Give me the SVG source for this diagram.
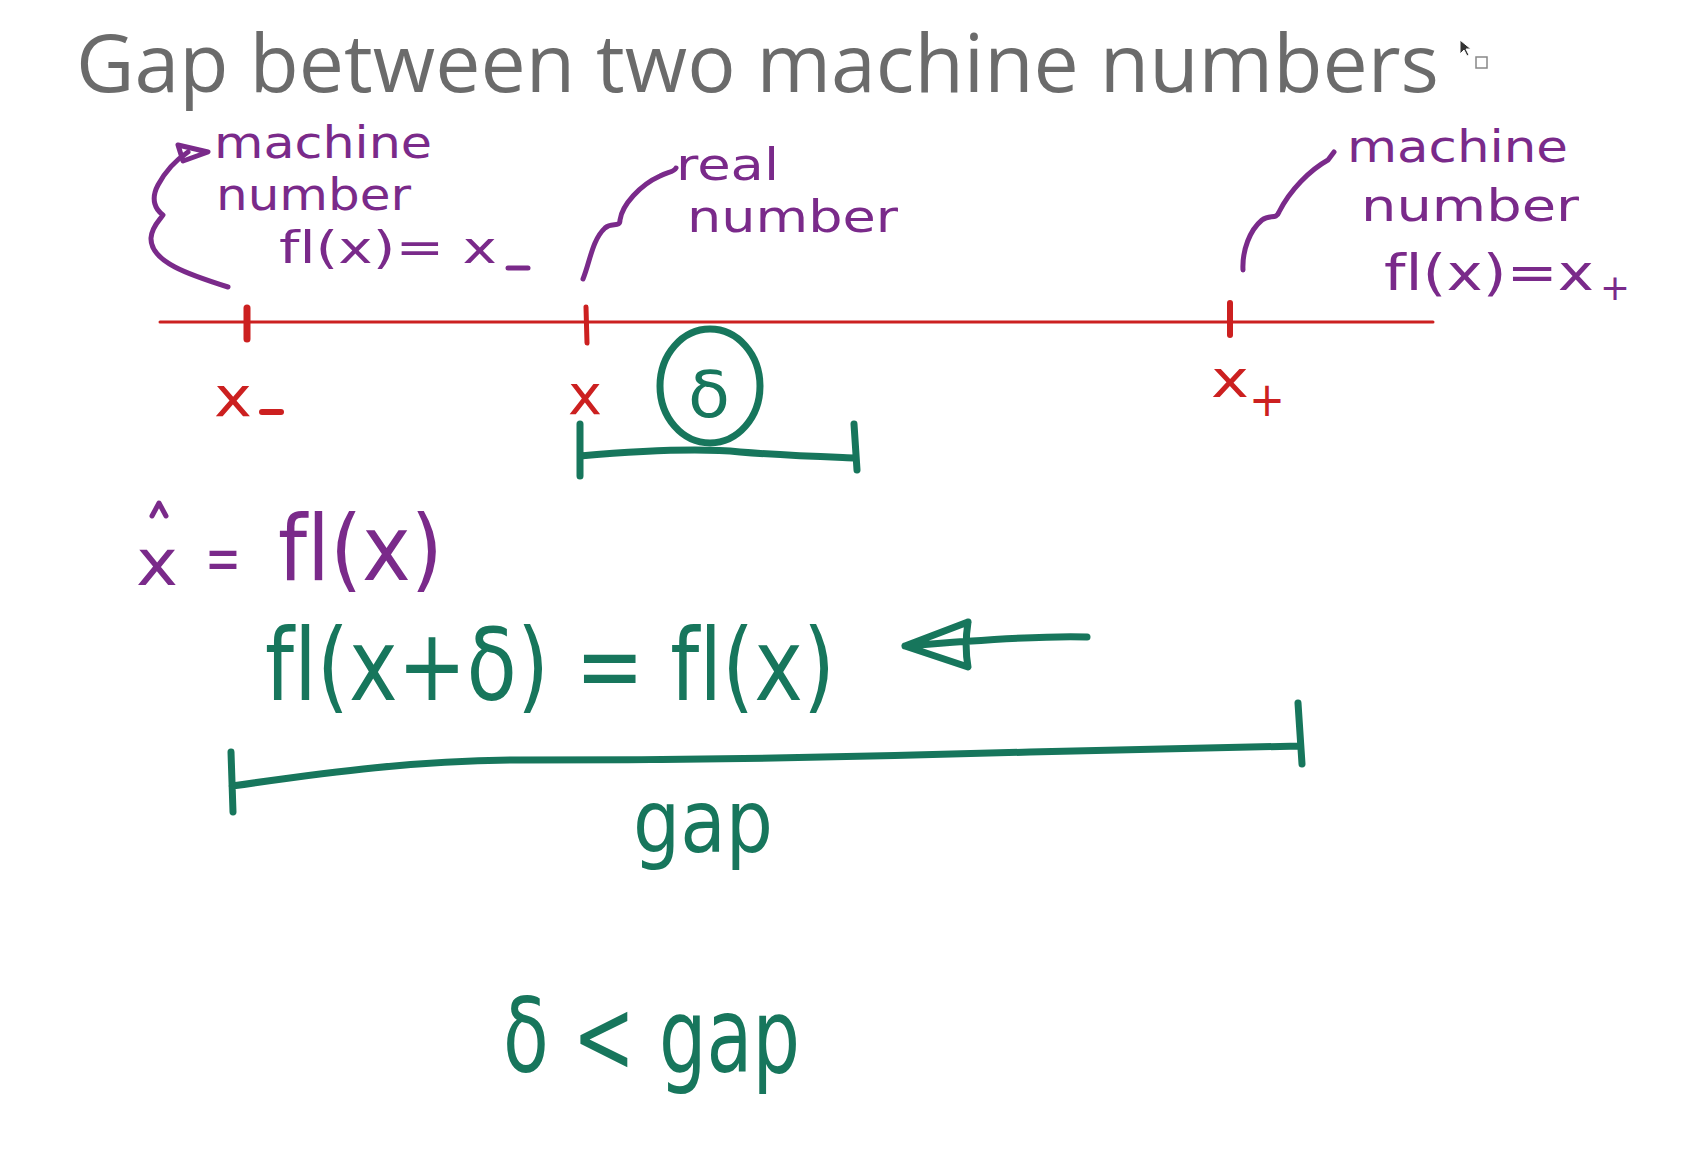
<svg xmlns="http://www.w3.org/2000/svg" width="1696" height="1156" viewBox="0 0 1696 1156">
<defs>
<style>
text{font-variant-ligatures:none;font-feature-settings:"liga" 0}
.title{font-family:"Open Sans","Liberation Sans",sans-serif;font-size:80px;fill:#6b6b6b}
.hp{font-family:"DejaVu Sans","Noto Sans",sans-serif;fill:#7a2a8a}
.hg{font-family:"DejaVu Sans","Noto Sans",sans-serif;fill:#17765c}
.hr{font-family:"DejaVu Sans","Noto Sans",sans-serif;fill:#cc2020}
.sp{fill:none;stroke:#7a2a8a;stroke-width:5;stroke-linecap:round;stroke-linejoin:round}
.sg{fill:none;stroke:#17765c;stroke-width:7;stroke-linecap:round;stroke-linejoin:round}
.sr{fill:none;stroke:#cc2020;stroke-linecap:round}
</style>
</defs>
<rect width="1696" height="1156" fill="#ffffff"/>
<g id="title">
<text class="title" x="76" y="92" textLength="1363" lengthAdjust="spacingAndGlyphs">Gap between two machine numbers</text>
<path d="M1460,40 L1460,54 L1464,50 L1467,56 L1469,55 L1466,49 L1471,49 Z" fill="#333" stroke="#fff" stroke-width="1"/>
<rect x="1476" y="57" width="11" height="11" fill="#fff" stroke="#888" stroke-width="1.5"/>
</g>
<g id="number-line">
<line class="sr" x1="160" y1="322" x2="1433" y2="322" stroke-width="3"/>
<line class="sr" x1="247" y1="308" x2="247" y2="339" stroke-width="7"/>
<line class="sr" x1="586" y1="307" x2="587" y2="343" stroke-width="5"/>
<line class="sr" x1="1230" y1="303" x2="1230" y2="335" stroke-width="6"/>
</g>
<g id="label-xminus">
<text class="hr" x="214" y="416" font-size="56" textLength="38" lengthAdjust="spacingAndGlyphs">x</text>
<line class="sr" x1="262" y1="412" x2="281" y2="412" stroke-width="6"/>
</g>
<g id="label-x">
<text class="hr" x="568" y="414" font-size="56" textLength="34" lengthAdjust="spacingAndGlyphs">x</text>
</g>
<g id="label-xplus">
<text class="hr" x="1211" y="397" font-size="52" textLength="38" lengthAdjust="spacingAndGlyphs">x</text>
<text class="hr" x="1249" y="416" font-size="48" textLength="36" lengthAdjust="spacingAndGlyphs">+</text>
</g>
<g id="delta-interval">
<ellipse class="sg" cx="710" cy="386" rx="50" ry="57"/>
<text class="hg" x="688" y="417" font-size="64" textLength="42" lengthAdjust="spacingAndGlyphs">δ</text>
<path class="sg" d="M580,424 L580,476 M580,456 C650,450 700,448 740,452 C790,456 830,457 856,458 M854,424 L857,470"/>
</g>
<g id="note-left">
<text class="hp" x="214" y="158" font-size="44" textLength="218" lengthAdjust="spacingAndGlyphs">machine</text>
<text class="hp" x="216" y="210" font-size="44" textLength="195" lengthAdjust="spacingAndGlyphs">number</text>
<text class="hp" x="279" y="263" font-size="44" textLength="218" lengthAdjust="spacingAndGlyphs">fl(x)= x</text>
<line class="sp" x1="508" y1="268" x2="528" y2="268"/>
</g>
<g id="note-middle">
<text class="hp" x="676" y="180" font-size="44" textLength="103" lengthAdjust="spacingAndGlyphs">real</text>
<text class="hp" x="687" y="232" font-size="44" textLength="211" lengthAdjust="spacingAndGlyphs">number</text>
</g>
<g id="note-right">
<text class="hp" x="1347" y="162" font-size="44" textLength="221" lengthAdjust="spacingAndGlyphs">machine</text>
<text class="hp" x="1361" y="221" font-size="44" textLength="218" lengthAdjust="spacingAndGlyphs">number</text>
<text class="hp" x="1384" y="290" font-size="50" textLength="210" lengthAdjust="spacingAndGlyphs">fl(x)=x</text>
<text class="hp" x="1600" y="300" font-size="36" textLength="30" lengthAdjust="spacingAndGlyphs">+</text>
</g>
<g id="xhat-eq">
<text class="hp" x="136" y="585" font-size="64" textLength="42" lengthAdjust="spacingAndGlyphs">x</text>
<path class="sp" d="M152,516 L159,503 L166,516"/>
<text class="hp" x="205" y="580" font-size="64" textLength="36" lengthAdjust="spacingAndGlyphs">=</text>
<text class="hp" x="278" y="580" font-size="90" textLength="165" lengthAdjust="spacingAndGlyphs">fl(x)</text>
</g>
<g id="fl-eq">
<text class="hg" x="265" y="700" font-size="100" textLength="570" lengthAdjust="spacingAndGlyphs">fl(x+δ) = fl(x)</text>
</g>
<g id="gap-bracket">
<path class="sg" d="M231,752 L233,812 M232,786 C330,772 420,760 520,760 C700,760 900,756 1030,752 C1150,749 1240,747 1300,746 M1298,703 L1302,764"/>
<text class="hg" x="633" y="852" font-size="88" textLength="140" lengthAdjust="spacingAndGlyphs">gap</text>
</g>
<g id="delta-lt-gap">
<text class="hg" x="503" y="1072" font-size="104" textLength="297" lengthAdjust="spacingAndGlyphs">δ &lt; gap</text>
</g>
<g id="connectors">
<path class="sp" d="M228,287 C190,275 150,262 151,238 C152,226 160,220 163,215 C156,210 150,200 158,185 C166,170 176,160 188,152"/>
<path class="sp" d="M178,145 L208,152 L183,161 Z"/>
<path class="sp" d="M583,279 C590,262 592,240 605,228 C612,222 620,228 620,220 C622,205 640,185 660,176 C668,172 674,172 676,168"/>
<path class="sp" d="M1243,270 C1242,250 1250,230 1262,220 C1270,214 1276,220 1279,212 C1290,190 1310,170 1328,160 L1334,152"/>
<path class="sg" d="M1087,637 C1050,635 980,640 905,646 M968,622 L905,646 L968,667 C965,650 966,635 968,622"/>
</g>
</svg>
